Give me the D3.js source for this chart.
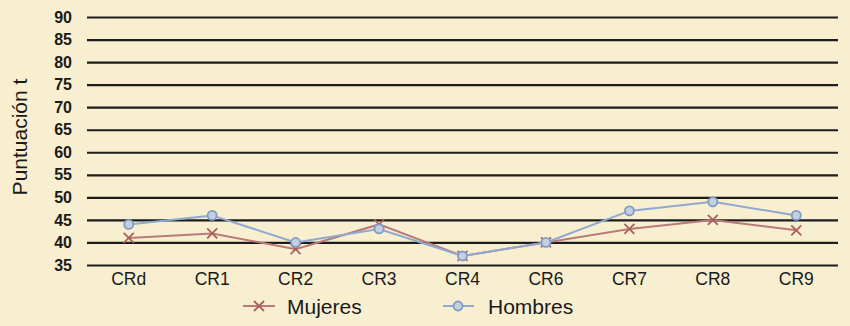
<!DOCTYPE html>
<html><head><meta charset="utf-8">
<script src="https://cdn.jsdelivr.net/npm/d3@7"></script>
<style>
html,body{margin:0;padding:0;background:#f8efd0;}
svg{display:block;font-family:"Liberation Sans",Arial,sans-serif;}
</style></head><body>
<svg id="c" width="850" height="326"></svg>
<script>
const categories = ["CRd","CR1","CR2","CR3","CR4","CR6","CR7","CR8","CR9"];
const mujeres = [41, 42, 38.5, 44, 37, 40, 43, 45, 42.7];
const hombres = [44, 46, 40, 43, 37, 40, 47, 49, 46];
const yTicks = [35,40,45,50,55,60,65,70,75,80,85,90];
const seriesNames = ["Mujeres","Hombres"];

const svg = d3.select("#c");
svg.append("rect").attr("width",850).attr("height",326).attr("fill","#f8efd0");

const x = d3.scaleBand().domain(categories).range([87,838]);
const y = d3.scaleLinear().domain([35,90]).range([265,17]);
const cx = d => x(d) + x.bandwidth()/2;

// gridlines
const yAxis = d3.axisLeft(y).tickValues(yTicks).tickSize(-(838-87)).tickPadding(15);
const gy = svg.append("g").attr("transform","translate(87,0)").call(yAxis);
gy.select(".domain").remove();
gy.selectAll(".tick line").attr("stroke","#1c1c1c").attr("stroke-width",2.2);
gy.selectAll(".tick text").attr("font-size",16).attr("fill","#1a1a1a").attr("font-weight","bold")
  .attr("font-family","Liberation Sans, Arial, sans-serif");

// x labels
const xAxis = d3.axisBottom(x).tickSize(0).tickPadding(8);
const gx = svg.append("g").attr("transform","translate(0,265)").call(xAxis);
gx.select(".domain").remove();
gx.selectAll(".tick text").attr("font-size",17.5).attr("fill","#1a1a1a")
  .attr("font-family","Liberation Sans, Arial, sans-serif");

// y title
svg.append("text").attr("transform","translate(27,137) rotate(-90)").attr("text-anchor","middle")
  .attr("font-size",21).attr("fill","#1a1a1a").text("Puntuación t");

const colM = "#b97a78", colH = "#8fa9d1";
const line = d3.line().x((d,i)=>cx(categories[i])).y(d=>y(d));

function cross(g, px, py, s, col){
  g.append("path").attr("d",`M${px-s},${py-s}L${px+s},${py+s}M${px-s},${py+s}L${px+s},${py-s}`)
   .attr("stroke",col).attr("stroke-width",1.8).attr("fill","none");
}
function circ(g, px, py, col){
  g.append("circle").attr("cx",px).attr("cy",py).attr("r",4.5)
   .attr("fill","#c4cfdf").attr("stroke",col).attr("stroke-width",1.8);
}

svg.append("path").datum(mujeres).attr("d",line).attr("fill","none").attr("stroke",colM).attr("stroke-width",2);
const gm = svg.append("g");
mujeres.forEach((v,i)=>cross(gm, cx(categories[i]), y(v), 5, "#a8605e"));

svg.append("path").datum(hombres).attr("d",line).attr("fill","none").attr("stroke",colH).attr("stroke-width",2);
const gh = svg.append("g");
hombres.forEach((v,i)=>circ(gh, cx(categories[i]), y(v), "#7f9cc8"));

// legend
const lg = svg.append("g");
const legY = 306;
lg.append("line").attr("x1",243).attr("x2",275).attr("y1",legY).attr("y2",legY).attr("stroke",colM).attr("stroke-width",2);
cross(lg, 259, legY, 5, "#a8605e");
lg.append("text").attr("x",287).attr("y",legY+7.5).attr("font-size",21).attr("fill","#1a1a1a").text(seriesNames[0]);
lg.append("line").attr("x1",443).attr("x2",474).attr("y1",legY).attr("y2",legY).attr("stroke",colH).attr("stroke-width",2);
circ(lg, 458, legY, "#7f9cc8");
lg.append("text").attr("x",488).attr("y",legY+7.5).attr("font-size",21).attr("fill","#1a1a1a").text(seriesNames[1]);
</script>
</body></html>
